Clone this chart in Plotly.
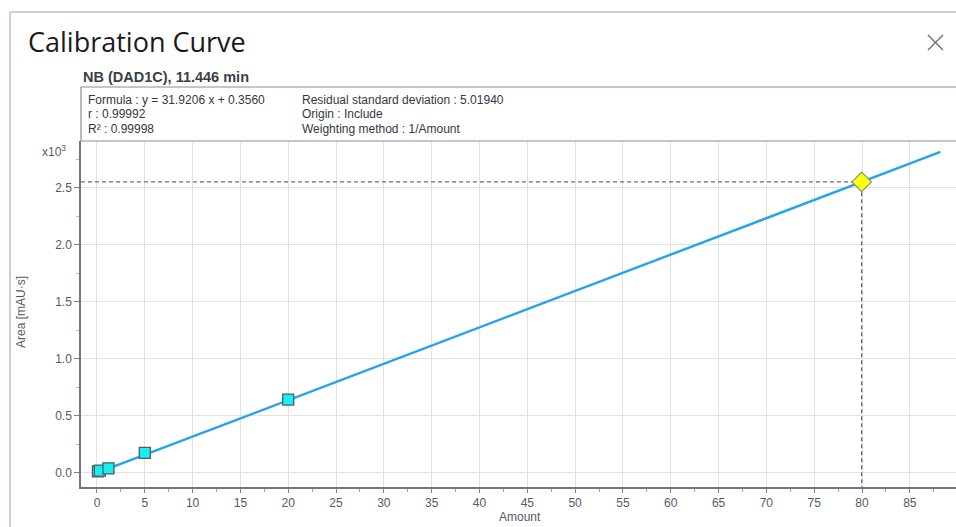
import plotly.graph_objects as go

# Calibration standards (amount vs. peak area, mAU·s)
std_amount = [0.1, 0.3, 1.2, 5.0, 20.0]
std_area = [14.0, 20.0, 41.0, 177.0, 644.0]

# Fitted line: y = slope * x + intercept
slope = 31.9206
intercept = 0.3560
fit_x = [0.0, 88.2]
fit_y = [slope * x + intercept for x in fit_x]

# Unknown sample
sample_amount = [79.97]
sample_area = [slope * sample_amount[0] + intercept]

x_ticks = list(range(0, 90, 5))
y_tickvals = [0, 500, 1000, 1500, 2000, 2500]
y_ticktext = ["0.0", "0.5", "1.0", "1.5", "2.0", "2.5"]

x_range = [-1.67, 89.83]
y_range = [-123.0, 2912.0]

W, H = 956, 527
M_L, M_R, M_T, M_B = 81, 0, 141, 40
PW, PH = W - M_L - M_R, H - M_T - M_B


def px(x):
    """figure pixel x -> paper (plot-area) fraction"""
    return (x - M_L) / PW


def py(y):
    """figure pixel y (from top) -> paper (plot-area) fraction"""
    return (H - M_B - y) / PH


fig = go.Figure()

# dashed guides from the sample point to the axes
fig.add_trace(go.Scatter(
    x=[x_range[0], sample_amount[0], sample_amount[0]],
    y=[sample_area[0], sample_area[0], y_range[0]],
    mode="lines", line=dict(color="#6b6f7a", width=1.4, dash="4px,3px"),
    hoverinfo="skip", showlegend=False, cliponaxis=False))

fig.add_trace(go.Scatter(
    x=fit_x, y=fit_y, mode="lines",
    line=dict(color="#25a3ee", width=2.4), showlegend=False))

fig.add_trace(go.Scatter(
    x=std_amount, y=std_area, mode="markers",
    marker=dict(symbol="square", size=11, color="#16f0f0",
                line=dict(color="#555a60", width=1.3)),
    showlegend=False))

fig.add_trace(go.Scatter(
    x=sample_amount, y=sample_area, mode="markers",
    marker=dict(symbol="diamond", size=15, color="#ffff10",
                line=dict(color="#8a8a70", width=1.2)),
    showlegend=False))

tick_font = dict(family="Liberation Sans, Arial, sans-serif", size=12, color="#555a66")

fig.update_xaxes(
    range=x_range, tickvals=x_ticks, ticks="outside", ticklen=4,
    tickcolor="#7a7f92", tickfont=tick_font,
    showgrid=True, gridcolor="#e2e2e2", gridwidth=1,
    showline=True, linecolor="#70758a", linewidth=1.5,
    minor=dict(tickvals=[2.5 + 5 * i for i in range(18)], ticks="outside",
               ticklen=3, tickcolor="#9a9eb0", showgrid=False),
    zeroline=False)
fig.update_yaxes(
    range=y_range, tickvals=y_tickvals, ticktext=y_ticktext,
    ticks="outside", ticklen=5, tickcolor="#7a7f92", tickfont=tick_font,
    showgrid=True, gridcolor="#e2e2e2", gridwidth=1,
    showline=True, linecolor="#70758a", linewidth=1.5,
    minor=dict(tickvals=[250, 750, 1250, 1750, 2250, 2750], ticks="outside",
               ticklen=3, tickcolor="#b0b4c0", showgrid=False),
    zeroline=False)

text_font = dict(family="Liberation Sans, Arial, sans-serif", size=12, color="#333840")

annotations = [
    dict(text="Calibration Curve", x=26, y=42,
         font=dict(family="Open Sans, Noto Sans, sans-serif", size=27, color="#1a1a1a")),
    dict(text="NB (DAD1C), 11.446 min", x=81, y=77,
         font=dict(family="Liberation Sans, Arial, sans-serif", size=14.5, color="#3a3f48"),
         bold=True),
    dict(text="Formula : y = 31.9206 x + 0.3560", x=86, y=100, font=text_font),
    dict(text="r : 0.99992", x=86, y=114, font=text_font),
    dict(text="R² : 0.99998", x=86, y=129, font=text_font),
    dict(text="Residual standard deviation : 5.01940", x=300, y=100, font=text_font),
    dict(text="Origin : Include", x=300, y=114, font=text_font),
    dict(text="Weighting method : 1/Amount", x=300, y=129, font=text_font),
    dict(text="x10<sup>3</sup>", x=40, y=151, font=tick_font),
]

ann_list = []
for a in annotations:
    bold = a.pop("bold", False)
    text = f"<b>{a['text']}</b>" if bold else a["text"]
    ann_list.append(dict(
        text=text, xref="paper", yref="paper",
        x=px(a["x"]), y=py(a["y"]),
        xanchor="left", yanchor="middle", showarrow=False, font=a["font"]))

# axis titles
ann_list.append(dict(text="Area [mAU·s]", xref="paper", yref="paper",
                     x=px(21), y=py(312), textangle=-90,
                     xanchor="center", yanchor="middle", showarrow=False,
                     font=dict(family="Liberation Sans, Arial, sans-serif", size=12, color="#555a66")))
ann_list.append(dict(text="Amount", xref="paper", yref="paper",
                     x=px(520), y=py(517),
                     xanchor="center", yanchor="middle", showarrow=False,
                     font=dict(family="Liberation Sans, Arial, sans-serif", size=12, color="#555a66")))

shapes = [
    # dialog frame
    dict(type="line", xref="paper", yref="paper", x0=px(10), x1=px(W + 5), y0=py(12), y1=py(12),
         line=dict(color="#c9ced8", width=2)),
    dict(type="line", xref="paper", yref="paper", x0=px(10), x1=px(10), y0=py(H + 5), y1=py(12),
         line=dict(color="#c9ced8", width=2)),
    # info box
    dict(type="rect", xref="paper", yref="paper", x0=px(81), x1=px(W + 5), y0=py(141), y1=py(87),
         line=dict(color="#8a8e9c", width=1.2), fillcolor="rgba(0,0,0,0)"),
    # close button cross
    dict(type="line", xref="paper", yref="paper", x0=px(928), x1=px(943), y0=py(35), y1=py(50),
         line=dict(color="#747474", width=1.5)),
    dict(type="line", xref="paper", yref="paper", x0=px(928), x1=px(943), y0=py(50), y1=py(35),
         line=dict(color="#747474", width=1.5)),
]

fig.update_layout(
    width=W, height=H,
    margin=dict(l=M_L, r=M_R, t=M_T, b=M_B),
    paper_bgcolor="white", plot_bgcolor="white",
    annotations=ann_list, shapes=shapes,
    showlegend=False,
)

fig.write_html("out.html")
